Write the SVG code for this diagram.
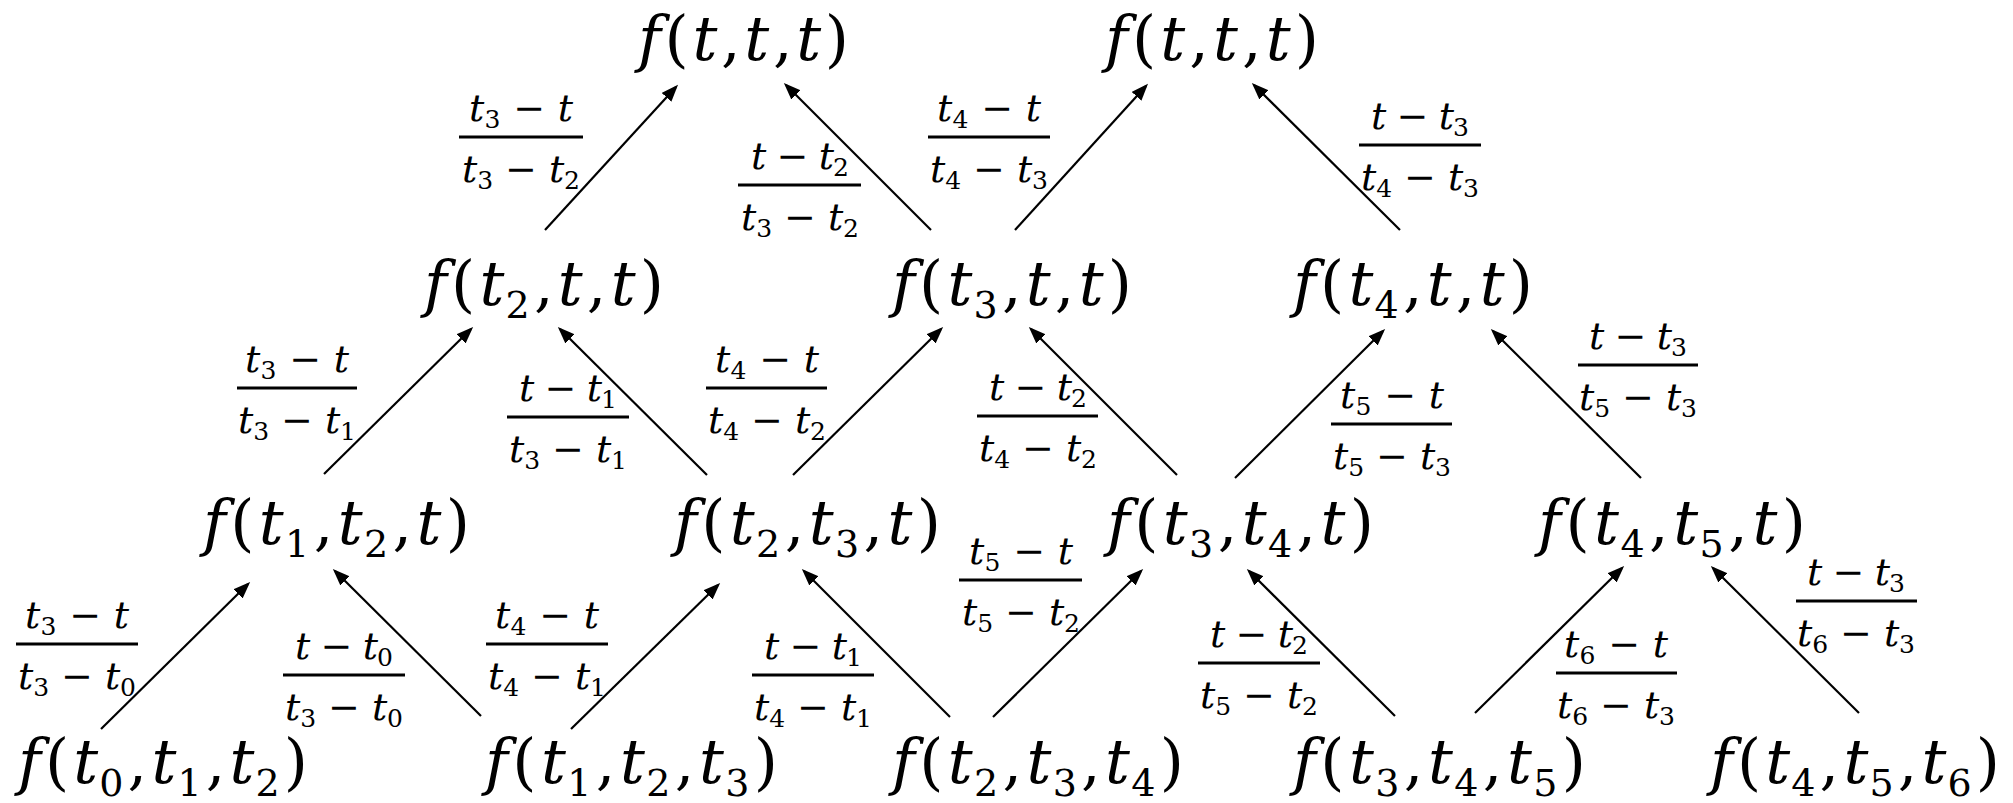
<svg xmlns="http://www.w3.org/2000/svg" width="2013" height="803" viewBox="0 0 2013 803">
<defs>
<marker id="ah" markerUnits="userSpaceOnUse" markerWidth="18" markerHeight="14" refX="14" refY="6.5" orient="auto">
<path d="M0,0 L17,6.5 L0,13 Z" fill="#000"/>
</marker>
<style>
.m{font-family:"DejaVu Serif",serif;font-style:italic;font-size:62px;fill:#000}
.u{font-style:normal}
.s{font-style:normal;font-size:38px}
.fr{font-family:"DejaVu Serif",serif;font-style:italic;font-size:38px;fill:#000;text-anchor:middle}
.fs{font-style:normal;font-size:25px}
.bar{stroke:#000;stroke-width:2.8}
.c line{stroke:#000;stroke-width:2.2;marker-end:url(#ah)}
</style>
</defs>
<rect width="2013" height="803" fill="#fff"/>

<g id="connectors" class="c">
<line x1="101" y1="729" x2="248" y2="584"/>
<line x1="481" y1="716" x2="335" y2="571"/>
<line x1="571" y1="729" x2="718" y2="585"/>
<line x1="950" y1="717" x2="804" y2="571"/>
<line x1="993" y1="717" x2="1141" y2="571"/>
<line x1="1395" y1="716" x2="1249" y2="571"/>
<line x1="1475" y1="713" x2="1622" y2="568"/>
<line x1="1859" y1="713" x2="1713" y2="568"/>
<line x1="324" y1="474" x2="471" y2="329"/>
<line x1="707" y1="475" x2="560" y2="329"/>
<line x1="793" y1="475" x2="941" y2="329"/>
<line x1="1177" y1="475" x2="1031" y2="329"/>
<line x1="1235" y1="478" x2="1383" y2="331"/>
<line x1="1641" y1="478" x2="1493" y2="331"/>
<line x1="545" y1="230" x2="676" y2="87"/>
<line x1="931" y1="230" x2="786" y2="85"/>
<line x1="1015" y1="230" x2="1146" y2="86"/>
<line x1="1400" y1="230" x2="1254" y2="85"/>
</g>

<g id="labels">
<g id="lab1"><text class="fr" x="521" y="121" textLength="104">t<tspan class="fs" dy="7">3</tspan><tspan class="u" dy="-7"> − </tspan>t</text><line class="bar" x1="459" y1="137" x2="583" y2="137"/><text class="fr" x="521" y="182" textLength="118">t<tspan class="fs" dy="7">3</tspan><tspan class="u" dy="-7"> − </tspan>t<tspan class="fs" dy="7">2</tspan></text></g>
<g id="lab2"><text class="fr" x="800" y="169" textLength="98">t<tspan class="u"> − </tspan>t<tspan class="fs" dy="7">2</tspan></text><line class="bar" x1="738" y1="185" x2="861" y2="185"/><text class="fr" x="800" y="230" textLength="118">t<tspan class="fs" dy="7">3</tspan><tspan class="u" dy="-7"> − </tspan>t<tspan class="fs" dy="7">2</tspan></text></g>
<g id="lab3"><text class="fr" x="989" y="121" textLength="104">t<tspan class="fs" dy="7">4</tspan><tspan class="u" dy="-7"> − </tspan>t</text><line class="bar" x1="928" y1="137" x2="1050" y2="137"/><text class="fr" x="989" y="182" textLength="118">t<tspan class="fs" dy="7">4</tspan><tspan class="u" dy="-7"> − </tspan>t<tspan class="fs" dy="7">3</tspan></text></g>
<g id="lab4"><text class="fr" x="1420" y="129" textLength="98">t<tspan class="u"> − </tspan>t<tspan class="fs" dy="7">3</tspan></text><line class="bar" x1="1359" y1="145" x2="1481" y2="145"/><text class="fr" x="1420" y="190" textLength="118">t<tspan class="fs" dy="7">4</tspan><tspan class="u" dy="-7"> − </tspan>t<tspan class="fs" dy="7">3</tspan></text></g>
<g id="lab5"><text class="fr" x="297" y="372" textLength="104">t<tspan class="fs" dy="7">3</tspan><tspan class="u" dy="-7"> − </tspan>t</text><line class="bar" x1="237" y1="388" x2="357" y2="388"/><text class="fr" x="297" y="433" textLength="118">t<tspan class="fs" dy="7">3</tspan><tspan class="u" dy="-7"> − </tspan>t<tspan class="fs" dy="7">1</tspan></text></g>
<g id="lab6"><text class="fr" x="568" y="401" textLength="98">t<tspan class="u"> − </tspan>t<tspan class="fs" dy="7">1</tspan></text><line class="bar" x1="507" y1="417" x2="629" y2="417"/><text class="fr" x="568" y="462" textLength="118">t<tspan class="fs" dy="7">3</tspan><tspan class="u" dy="-7"> − </tspan>t<tspan class="fs" dy="7">1</tspan></text></g>
<g id="lab7"><text class="fr" x="767" y="372" textLength="104">t<tspan class="fs" dy="7">4</tspan><tspan class="u" dy="-7"> − </tspan>t</text><line class="bar" x1="706" y1="388" x2="827" y2="388"/><text class="fr" x="767" y="433" textLength="118">t<tspan class="fs" dy="7">4</tspan><tspan class="u" dy="-7"> − </tspan>t<tspan class="fs" dy="7">2</tspan></text></g>
<g id="lab8"><text class="fr" x="1038" y="400" textLength="98">t<tspan class="u"> − </tspan>t<tspan class="fs" dy="7">2</tspan></text><line class="bar" x1="977" y1="416" x2="1098" y2="416"/><text class="fr" x="1038" y="461" textLength="118">t<tspan class="fs" dy="7">4</tspan><tspan class="u" dy="-7"> − </tspan>t<tspan class="fs" dy="7">2</tspan></text></g>
<g id="lab9"><text class="fr" x="1392" y="408" textLength="104">t<tspan class="fs" dy="7">5</tspan><tspan class="u" dy="-7"> − </tspan>t</text><line class="bar" x1="1331" y1="424" x2="1452" y2="424"/><text class="fr" x="1392" y="469" textLength="118">t<tspan class="fs" dy="7">5</tspan><tspan class="u" dy="-7"> − </tspan>t<tspan class="fs" dy="7">3</tspan></text></g>
<g id="lab10"><text class="fr" x="1638" y="349" textLength="98">t<tspan class="u"> − </tspan>t<tspan class="fs" dy="7">3</tspan></text><line class="bar" x1="1578" y1="365" x2="1698" y2="365"/><text class="fr" x="1638" y="410" textLength="118">t<tspan class="fs" dy="7">5</tspan><tspan class="u" dy="-7"> − </tspan>t<tspan class="fs" dy="7">3</tspan></text></g>
<g id="lab11"><text class="fr" x="77" y="628" textLength="104">t<tspan class="fs" dy="7">3</tspan><tspan class="u" dy="-7"> − </tspan>t</text><line class="bar" x1="16" y1="644" x2="138" y2="644"/><text class="fr" x="77" y="689" textLength="118">t<tspan class="fs" dy="7">3</tspan><tspan class="u" dy="-7"> − </tspan>t<tspan class="fs" dy="7">0</tspan></text></g>
<g id="lab12"><text class="fr" x="344" y="659" textLength="98">t<tspan class="u"> − </tspan>t<tspan class="fs" dy="7">0</tspan></text><line class="bar" x1="283" y1="675" x2="405" y2="675"/><text class="fr" x="344" y="720" textLength="118">t<tspan class="fs" dy="7">3</tspan><tspan class="u" dy="-7"> − </tspan>t<tspan class="fs" dy="7">0</tspan></text></g>
<g id="lab13"><text class="fr" x="547" y="628" textLength="104">t<tspan class="fs" dy="7">4</tspan><tspan class="u" dy="-7"> − </tspan>t</text><line class="bar" x1="486" y1="644" x2="608" y2="644"/><text class="fr" x="547" y="689" textLength="118">t<tspan class="fs" dy="7">4</tspan><tspan class="u" dy="-7"> − </tspan>t<tspan class="fs" dy="7">1</tspan></text></g>
<g id="lab14"><text class="fr" x="1021" y="564" textLength="104">t<tspan class="fs" dy="7">5</tspan><tspan class="u" dy="-7"> − </tspan>t</text><line class="bar" x1="959" y1="580" x2="1082" y2="580"/><text class="fr" x="1021" y="625" textLength="118">t<tspan class="fs" dy="7">5</tspan><tspan class="u" dy="-7"> − </tspan>t<tspan class="fs" dy="7">2</tspan></text></g>
<g id="lab15"><text class="fr" x="813" y="659" textLength="98">t<tspan class="u"> − </tspan>t<tspan class="fs" dy="7">1</tspan></text><line class="bar" x1="752" y1="675" x2="874" y2="675"/><text class="fr" x="813" y="720" textLength="118">t<tspan class="fs" dy="7">4</tspan><tspan class="u" dy="-7"> − </tspan>t<tspan class="fs" dy="7">1</tspan></text></g>
<g id="lab16"><text class="fr" x="1259" y="647" textLength="98">t<tspan class="u"> − </tspan>t<tspan class="fs" dy="7">2</tspan></text><line class="bar" x1="1198" y1="663" x2="1320" y2="663"/><text class="fr" x="1259" y="708" textLength="118">t<tspan class="fs" dy="7">5</tspan><tspan class="u" dy="-7"> − </tspan>t<tspan class="fs" dy="7">2</tspan></text></g>
<g id="lab17"><text class="fr" x="1616" y="657" textLength="104">t<tspan class="fs" dy="7">6</tspan><tspan class="u" dy="-7"> − </tspan>t</text><line class="bar" x1="1556" y1="673" x2="1677" y2="673"/><text class="fr" x="1616" y="718" textLength="118">t<tspan class="fs" dy="7">6</tspan><tspan class="u" dy="-7"> − </tspan>t<tspan class="fs" dy="7">3</tspan></text></g>
<g id="lab18"><text class="fr" x="1856" y="585" textLength="98">t<tspan class="u"> − </tspan>t<tspan class="fs" dy="7">3</tspan></text><line class="bar" x1="1796" y1="601" x2="1917" y2="601"/><text class="fr" x="1856" y="646" textLength="118">t<tspan class="fs" dy="7">6</tspan><tspan class="u" dy="-7"> − </tspan>t<tspan class="fs" dy="7">3</tspan></text></g>
</g>

<g id="node-A"><text class="m" x="638" y="60" textLength="211">f<tspan class="u">(</tspan>t<tspan class="u">,</tspan>t<tspan class="u">,</tspan>t<tspan class="u">)</tspan></text></g>
<g id="node-B"><text class="m" x="1105" y="60" textLength="214">f<tspan class="u">(</tspan>t<tspan class="u">,</tspan>t<tspan class="u">,</tspan>t<tspan class="u">)</tspan></text></g>

<g id="node-C"><text class="m" x="424" y="305" textLength="240">f<tspan class="u">(</tspan>t<tspan class="s" dx="-3" dy="13">2</tspan><tspan class="u" dy="-13">,</tspan>t<tspan class="u">,</tspan>t<tspan class="u">)</tspan></text></g>
<g id="node-D"><text class="m" x="892" y="305" textLength="240">f<tspan class="u">(</tspan>t<tspan class="s" dx="-3" dy="13">3</tspan><tspan class="u" dy="-13">,</tspan>t<tspan class="u">,</tspan>t<tspan class="u">)</tspan></text></g>
<g id="node-E"><text class="m" x="1293" y="305" textLength="240">f<tspan class="u">(</tspan>t<tspan class="s" dx="-3" dy="13">4</tspan><tspan class="u" dy="-13">,</tspan>t<tspan class="u">,</tspan>t<tspan class="u">)</tspan></text></g>

<g id="node-F"><text class="m" x="203" y="544" textLength="267">f<tspan class="u">(</tspan>t<tspan class="s" dx="-3" dy="13">1</tspan><tspan class="u" dy="-13">,</tspan>t<tspan class="s" dx="-3" dy="13">2</tspan><tspan class="u" dy="-13">,</tspan>t<tspan class="u">)</tspan></text></g>
<g id="node-G"><text class="m" x="674" y="544" textLength="267">f<tspan class="u">(</tspan>t<tspan class="s" dx="-3" dy="13">2</tspan><tspan class="u" dy="-13">,</tspan>t<tspan class="s" dx="-3" dy="13">3</tspan><tspan class="u" dy="-13">,</tspan>t<tspan class="u">)</tspan></text></g>
<g id="node-H"><text class="m" x="1107" y="544" textLength="267">f<tspan class="u">(</tspan>t<tspan class="s" dx="-3" dy="13">3</tspan><tspan class="u" dy="-13">,</tspan>t<tspan class="s" dx="-3" dy="13">4</tspan><tspan class="u" dy="-13">,</tspan>t<tspan class="u">)</tspan></text></g>
<g id="node-I"><text class="m" x="1538" y="544" textLength="268">f<tspan class="u">(</tspan>t<tspan class="s" dx="-3" dy="13">4</tspan><tspan class="u" dy="-13">,</tspan>t<tspan class="s" dx="-3" dy="13">5</tspan><tspan class="u" dy="-13">,</tspan>t<tspan class="u">)</tspan></text></g>

<g id="node-J"><text class="m" x="18" y="783" textLength="290">f<tspan class="u">(</tspan>t<tspan class="s" dx="-3" dy="13">0</tspan><tspan class="u" dy="-13">,</tspan>t<tspan class="s" dx="-3" dy="13">1</tspan><tspan class="u" dy="-13">,</tspan>t<tspan class="s" dx="-3" dy="13">2</tspan><tspan class="u" dy="-13">)</tspan></text></g>
<g id="node-K"><text class="m" x="485" y="783" textLength="293">f<tspan class="u">(</tspan>t<tspan class="s" dx="-3" dy="13">1</tspan><tspan class="u" dy="-13">,</tspan>t<tspan class="s" dx="-3" dy="13">2</tspan><tspan class="u" dy="-13">,</tspan>t<tspan class="s" dx="-3" dy="13">3</tspan><tspan class="u" dy="-13">)</tspan></text></g>
<g id="node-L"><text class="m" x="892" y="783" textLength="292">f<tspan class="u">(</tspan>t<tspan class="s" dx="-3" dy="13">2</tspan><tspan class="u" dy="-13">,</tspan>t<tspan class="s" dx="-3" dy="13">3</tspan><tspan class="u" dy="-13">,</tspan>t<tspan class="s" dx="-3" dy="13">4</tspan><tspan class="u" dy="-13">)</tspan></text></g>
<g id="node-M"><text class="m" x="1293" y="783" textLength="293">f<tspan class="u">(</tspan>t<tspan class="s" dx="-3" dy="13">3</tspan><tspan class="u" dy="-13">,</tspan>t<tspan class="s" dx="-3" dy="13">4</tspan><tspan class="u" dy="-13">,</tspan>t<tspan class="s" dx="-3" dy="13">5</tspan><tspan class="u" dy="-13">)</tspan></text></g>
<g id="node-N"><text class="m" x="1710" y="783" textLength="290">f<tspan class="u">(</tspan>t<tspan class="s" dx="-3" dy="13">4</tspan><tspan class="u" dy="-13">,</tspan>t<tspan class="s" dx="-3" dy="13">5</tspan><tspan class="u" dy="-13">,</tspan>t<tspan class="s" dx="-3" dy="13">6</tspan><tspan class="u" dy="-13">)</tspan></text></g>
</svg>
